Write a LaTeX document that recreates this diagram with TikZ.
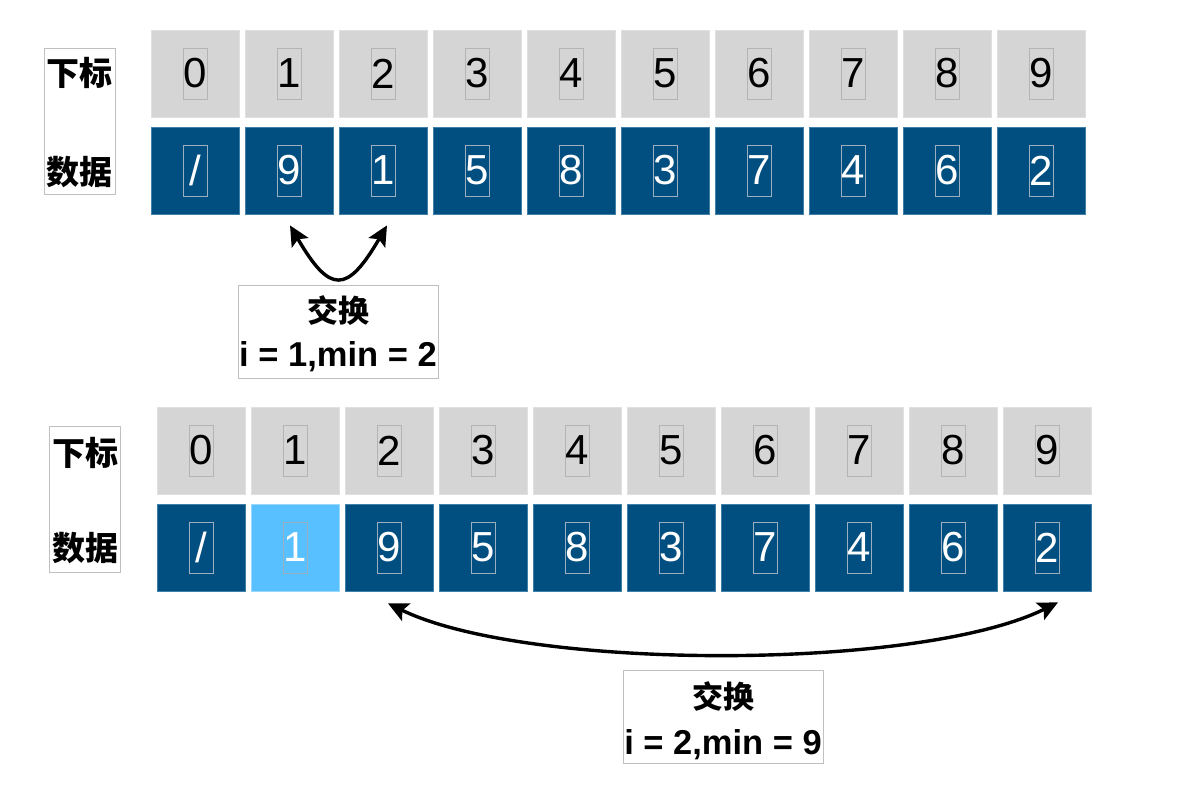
\documentclass[tikz,border=0pt]{standalone}
\usepackage{fontspec}
\setmainfont{Liberation Sans}
\newfontfamily\cjk{Noto Sans CJK SC}
\usetikzlibrary{arrows.meta,calc}
\definecolor{cellgray}{HTML}{D5D5D5}
\definecolor{cellgrayedge}{HTML}{E0E0E0}
\definecolor{cellblue}{HTML}{004F80}
\definecolor{cellblueedge}{HTML}{3F7FA8}
\definecolor{celllight}{HTML}{59C0FF}
\definecolor{celllightedge}{HTML}{9AD8FF}
\definecolor{tbgray}{HTML}{B4B4B4}
\definecolor{tbblue}{HTML}{9AAFC0}
\definecolor{framegray}{HTML}{C0C0C0}
\tikzset{
  idxcell/.style={rectangle, fill=cellgray, draw=cellgrayedge, line width=0.8pt, minimum width=88pt, minimum height=87pt, inner sep=0pt},
  datcell/.style={rectangle, fill=cellblue, draw=cellblueedge, line width=0.8pt, minimum width=88pt, minimum height=87pt, inner sep=0pt},
  selcell/.style={rectangle, fill=celllight, draw=celllightedge, line width=0.8pt, minimum width=88pt, minimum height=87pt, inner sep=0pt},
  idxtext/.style={rectangle, draw=tbgray, line width=0.7pt, minimum width=24pt, minimum height=51pt, inner sep=0pt, text=black, font=\fontsize{42}{42}\selectfont},
  dattext/.style={rectangle, draw=tbblue, line width=0.7pt, minimum width=24pt, minimum height=51pt, inner sep=0pt, text=white, font=\fontsize{42}{42}\selectfont},
  sideframe/.style={rectangle, draw=framegray, line width=0.8pt, fill=white, minimum width=71pt, minimum height=146pt, inner sep=0pt},
  sidetext/.style={inner sep=0pt, font=\cjk\bfseries\fontsize{33}{33}\selectfont},
  swapframe/.style={rectangle, draw=framegray, line width=0.8pt, fill=white, minimum width=200pt, minimum height=93pt, inner sep=0pt},
  swapcjk/.style={inner sep=0pt, font=\cjk\bfseries\fontsize{31}{31}\selectfont},
  swaptext/.style={inner sep=0pt, font=\bfseries\fontsize{34.5}{34.5}\selectfont},
  swaparrow/.style={line width=3.4pt, black, {Stealth[length=20pt,width=19pt,inset=4pt]}-{Stealth[length=20pt,width=19pt,inset=4pt]}}
}
\begin{document}
\begin{tikzpicture}[x=1pt,y=-1pt]
\useasboundingbox[fill=white] (0,0) rectangle (1188,808);

% ---------- top section ----------
\node[sideframe] (lab1) at (79.5,121) {};
\node[sidetext] (lab1a) at (79.5,73) {下标};
\node[sidetext] (lab1b) at (79.5,172) {数据};

\foreach \i/\v in {0/0,1/1,2/2,3/3,4/4,5/5,6/6,7/7,8/8,9/9} {
  \node[idxcell] (a\i) at (195+94*\i,73.5) {};
  \node[idxtext] (at\i) at (a\i.center) {\v};
}
\foreach \i/\v in {0/{/},1/9,2/1,3/5,4/8,5/3,6/7,7/4,8/6,9/2} {
  \node[datcell] (d\i) at (195+94*\i,170.5) {};
  \node[dattext] (dt\i) at (d\i.center) {\v};
}

\coordinate (s1a) at ($(d1.south)+(1,11)$);
\coordinate (s1b) at ($(d2.south)+(4,11)$);
\draw[swaparrow] (s1a) .. controls (330,294) and (347,294) .. (s1b);

\node[swapframe] (box1) at (338,331.5) {};
\node[swapcjk] (box1a) at (338,311) {交换};
\node[swaptext] (box1b) at (338,357) {i = 1,min = 2};

% ---------- bottom section ----------
\node[sideframe] (lab2) at (85,499) {};
\node[sidetext] (lab2a) at (85,453) {下标};
\node[sidetext] (lab2b) at (85,548) {数据};

\foreach \i/\v in {0/0,1/1,2/2,3/3,4/4,5/5,6/6,7/7,8/8,9/9} {
  \node[idxcell] (b\i) at (201+94*\i,450.5) {};
  \node[idxtext] (bt\i) at (b\i.center) {\v};
}
\foreach \i/\v in {0/{/},2/9,3/5,4/8,5/3,6/7,7/4,8/6,9/2} {
  \node[datcell] (e\i) at (201+94*\i,547.5) {};
  \node[dattext] (et\i) at (e\i.center) {\v};
}
\node[selcell] (e1) at (295,547.5) {};
\node[dattext] (et1) at (e1.center) {1};

\coordinate (s2a) at ($(e2.south)+(-1,12)$);
\coordinate (s2b) at ($(e9.south)+(11,11)$);
\draw[swaparrow] (s2a) .. controls (527,671) and (919,671) .. (s2b);

\node[swapframe] (box2) at (723,717) {};
\node[swapcjk] (box2a) at (723,697) {交换};
\node[swaptext] (box2b) at (723,745) {i = 2,min = 9};
\end{tikzpicture}
\end{document}
